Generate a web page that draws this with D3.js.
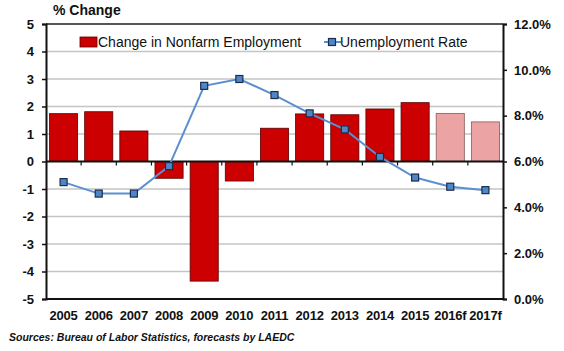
<!DOCTYPE html>
<html lang="en">
<head>
<meta charset="UTF-8">
<title>Nonfarm Employment and Unemployment Rate</title>
<style>
    body { margin: 0; padding: 0; background: #fff; }
    svg text { font-family: Arial, "Liberation Sans", sans-serif; fill: #111; }
    .tick-lbl { font-size: 13px; font-weight: bold; }
</style>
</head>
<body>
<script src="https://d3js.org/d3.v7.min.js"></script>
<script>
// data
const years = ["2005", "2006", "2007", "2008", "2009", "2010", "2011", "2012", "2013", "2014", "2015", "2016f", "2017f"];
const employmentChange = [1.74, 1.81, 1.11, -0.61, -4.35, -0.71, 1.21, 1.73, 1.70, 1.91, 2.14, 1.75, 1.44];
const unemploymentRate = [5.1, 4.6, 4.6, 5.8, 9.3, 9.6, 8.9, 8.1, 7.4, 6.2, 5.3, 4.9, 4.75];
const forecastYears = ["2016f", "2017f"];
const leftTicks = [-5, -4, -3, -2, -1, 0, 1, 2, 3, 4, 5];
const rightTicks = [0, 2, 4, 6, 8, 10, 12];

const W = 564, H = 351;
const plot = { left: 46, right: 503, top: 24, bottom: 299 };

const svg = d3.select("body").append("svg")
    .attr("width", W)
    .attr("height", H);

const x = d3.scaleBand()
    .domain(years)
    .range([plot.left, plot.right])
    .paddingInner(0.2)
    .paddingOuter(0.1);

const yL = d3.scaleLinear().domain([-5, 5]).range([plot.bottom, plot.top]);
const yR = d3.scaleLinear().domain([0, 12]).range([plot.bottom, plot.top]);

// gridlines
svg.append("g")
    .selectAll("line")
    .data(leftTicks.filter(d => d !== 0 && d !== 5 && d !== -5))
    .enter().append("line")
    .attr("x1", plot.left).attr("x2", plot.right)
    .attr("y1", d => yL(d)).attr("y2", d => yL(d))
    .attr("stroke", "#c4c4c4")
    .attr("stroke-width", 1.6);

// legend
const leg = svg.append("g");
leg.append("rect")
    .attr("x", 80).attr("y", 37).attr("width", 17).attr("height", 10)
    .attr("fill", "#cc0000").attr("stroke", "#5a0000").attr("stroke-width", 0.8);
leg.append("text")
    .attr("x", 98).attr("y", 47)
    .attr("font-size", "14px")
    .text("Change in Nonfarm Employment");
leg.append("line")
    .attr("x1", 324).attr("x2", 341).attr("y1", 42).attr("y2", 42)
    .attr("stroke", "#5b8fd0").attr("stroke-width", 2);
leg.append("rect")
    .attr("x", 328.5).attr("y", 38.5).attr("width", 7).attr("height", 7)
    .attr("fill", "#4f86c6").attr("stroke", "#1b2d4f").attr("stroke-width", 1.2);
leg.append("text")
    .attr("x", 340).attr("y", 47)
    .attr("font-size", "14px")
    .text("Unemployment Rate");

// bars
svg.append("g")
    .selectAll("rect")
    .data(years)
    .enter().append("rect")
    .attr("x", d => x(d))
    .attr("width", x.bandwidth())
    .attr("y", (d, i) => yL(Math.max(0, employmentChange[i])))
    .attr("height", (d, i) => Math.abs(yL(employmentChange[i]) - yL(0)))
    .attr("fill", d => forecastYears.includes(d) ? "#eba3a3" : "#cc0000")
    .attr("stroke", d => forecastYears.includes(d) ? "#8a5a5a" : "#5a0000")
    .attr("stroke-width", 0.8);

// zero line with ticks between categories
svg.append("line")
    .attr("x1", plot.left).attr("x2", plot.right)
    .attr("y1", yL(0)).attr("y2", yL(0))
    .attr("stroke", "#111").attr("stroke-width", 1.8);
const step = x.step();
svg.append("g")
    .selectAll("line")
    .data(years.slice(1))
    .enter().append("line")
    .attr("x1", d => x(d) - step * x.paddingInner() / 2)
    .attr("x2", d => x(d) - step * x.paddingInner() / 2)
    .attr("y1", yL(0)).attr("y2", yL(0) + 4)
    .attr("stroke", "#111").attr("stroke-width", 1.2);

// unemployment line
const line = d3.line()
    .x((d, i) => x(years[i]) + x.bandwidth() / 2)
    .y(d => yR(d));
svg.append("path")
    .datum(unemploymentRate)
    .attr("d", line)
    .attr("fill", "none")
    .attr("stroke", "#5b8fd0")
    .attr("stroke-width", 2);
svg.append("g")
    .selectAll("rect")
    .data(unemploymentRate)
    .enter().append("rect")
    .attr("x", (d, i) => x(years[i]) + x.bandwidth() / 2 - 3.5)
    .attr("y", d => yR(d) - 3.5)
    .attr("width", 7).attr("height", 7)
    .attr("fill", "#4f86c6")
    .attr("stroke", "#1b2d4f")
    .attr("stroke-width", 1.2);

// plot frame
svg.append("line")
    .attr("x1", plot.left).attr("x2", plot.right)
    .attr("y1", plot.top).attr("y2", plot.top)
    .attr("stroke", "#555").attr("stroke-width", 2);
svg.append("line")
    .attr("x1", plot.left).attr("x2", plot.right)
    .attr("y1", plot.bottom).attr("y2", plot.bottom)
    .attr("stroke", "#111").attr("stroke-width", 2);

// left axis (plain hyphen for negatives, like the original)
const axL = svg.append("g")
    .attr("transform", "translate(" + plot.left + ",0)")
    .call(d3.axisLeft(yL).tickValues(leftTicks).tickSize(4).tickPadding(8).tickFormat(d => String(d)));
axL.select(".domain").attr("stroke", "#111").attr("stroke-width", 2);
axL.selectAll(".tick line").attr("stroke", "#111").attr("stroke-width", 1.5);
axL.selectAll("text").attr("class", "tick-lbl").attr("fill", "#111").attr("font-family", null).attr("font-size", null);

// right axis
const axR = svg.append("g")
    .attr("transform", "translate(" + plot.right + ",0)")
    .call(d3.axisRight(yR).tickValues(rightTicks).tickSize(4).tickPadding(7).tickFormat(d => d3.format(".1f")(d) + "%"));
axR.select(".domain").attr("stroke", "#111").attr("stroke-width", 2);
axR.selectAll(".tick line").attr("stroke", "#111").attr("stroke-width", 1.5);
axR.selectAll("text").attr("class", "tick-lbl").attr("fill", "#111").attr("font-family", null).attr("font-size", null);

// category labels
svg.append("g")
    .selectAll("text")
    .data(years)
    .enter().append("text")
    .attr("class", "tick-lbl")
    .attr("x", d => x(d) + x.bandwidth() / 2)
    .attr("y", 320)
    .attr("text-anchor", "middle")
    .attr("letter-spacing", "-0.2px")
    .text(d => d);

// axis title
svg.append("text")
    .attr("x", 53).attr("y", 15)
    .attr("font-size", "14px")
    .attr("font-weight", "bold")
    .text("% Change");

// source note
svg.append("text")
    .attr("x", 9).attr("y", 341)
    .attr("font-size", "10.5px")
    .attr("font-weight", "bold")
    .attr("font-style", "italic")
    .text("Sources: Bureau of Labor Statistics, forecasts by LAEDC");
</script>
</body>
</html>
